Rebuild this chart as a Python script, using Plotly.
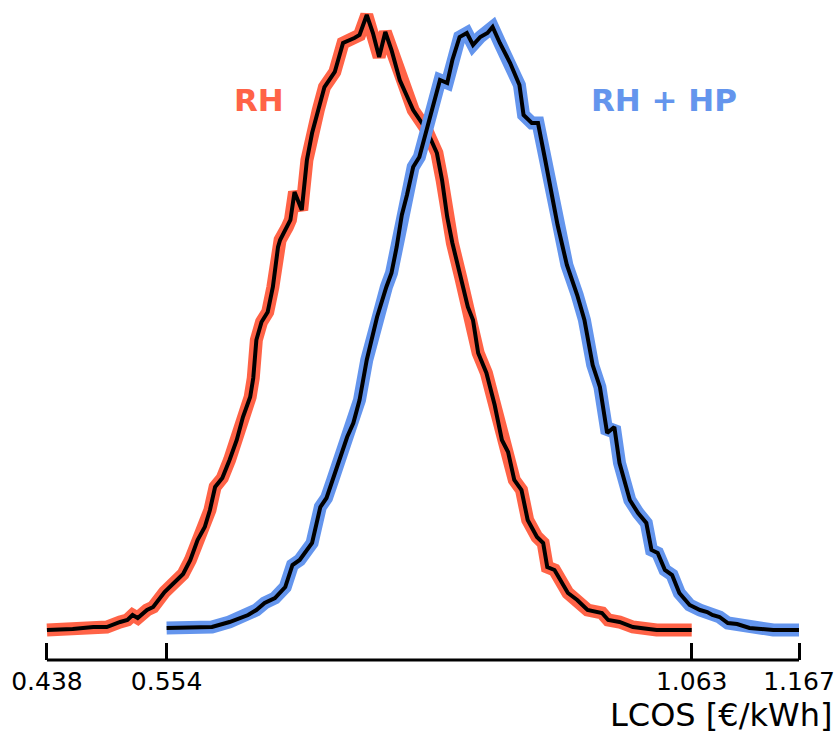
import plotly.graph_objects as go

# LCOS distributions (histogram outlines)
rh_x = [0.438, 0.463, 0.483, 0.496, 0.509, 0.516, 0.521, 0.526, 0.535, 0.541,
        0.552, 0.564, 0.570, 0.577, 0.584, 0.591, 0.596, 0.601, 0.608, 0.615,
        0.622, 0.628, 0.635, 0.638, 0.641, 0.646, 0.652, 0.657, 0.662, 0.664,
        0.671, 0.674, 0.678, 0.685, 0.690, 0.695, 0.701, 0.707, 0.717, 0.725,
        0.736, 0.741, 0.748, 0.754, 0.760, 0.766, 0.772, 0.780, 0.793, 0.806,
        0.816, 0.821, 0.826, 0.831, 0.839, 0.846, 0.851, 0.856, 0.864, 0.872,
        0.879, 0.885, 0.891, 0.898, 0.904, 0.913, 0.919, 0.923, 0.930, 0.943,
        0.952, 0.962, 0.976, 0.982, 0.993, 1.006, 1.029, 1.063]
rh_y = [2, 3, 5, 5, 10, 12, 17, 14, 22, 25,
        40, 52, 58, 72, 92, 105, 122, 145, 154, 172,
        192, 215, 235, 254, 292, 310, 320, 345, 385, 392,
        405, 412, 440, 422, 472, 499, 522, 545, 560, 589,
        594, 597, 617, 599, 575, 600, 582, 552, 522, 502,
        479, 452, 415, 389, 355, 325, 312, 279, 259, 227,
        192, 180, 152, 142, 112, 95, 89, 65, 62, 39,
        32, 22, 19, 12, 10, 5, 2, 2]

rhhp_x = [0.554, 0.577, 0.598, 0.615, 0.633, 0.641, 0.649, 0.659, 0.669, 0.676,
          0.683, 0.695, 0.703, 0.709, 0.715, 0.722, 0.729, 0.735, 0.741, 0.748,
          0.758, 0.767, 0.772, 0.777, 0.782, 0.787, 0.793, 0.799, 0.806, 0.812,
          0.819, 0.826, 0.831, 0.838, 0.845, 0.851, 0.858, 0.865, 0.870, 0.877,
          0.887, 0.896, 0.900, 0.908, 0.914, 0.921, 0.928, 0.933, 0.942, 0.952,
          0.959, 0.967, 0.974, 0.981, 0.988, 0.993, 1.003, 1.011, 1.019, 1.024,
          1.030, 1.037, 1.044, 1.051, 1.061, 1.071, 1.078, 1.083, 1.090, 1.098,
          1.107, 1.119, 1.142, 1.167]
rhhp_y = [4, 4, 5, 10, 17, 22, 29, 34, 45, 67,
          72, 89, 125, 134, 152, 175, 195, 209, 232, 272,
          315, 345, 359, 385, 417, 437, 465, 475, 502, 522,
          552, 549, 572, 595, 599, 587, 595, 599, 605, 589,
          569, 547, 517, 509, 509, 472, 432, 407, 367, 337,
          312, 267, 245, 199, 205, 169, 132, 119, 109, 82,
          79, 62, 57, 39, 27, 22, 20, 17, 15, 9,
          8, 4, 2, 2]

tick_vals = [0.438, 0.554, 1.063, 1.167]
tick_text = ["0.438", "0.554", "1.063", "1.167"]

red = "#FF6347"
blue = "#6495ED"

fig = go.Figure()
for xs, ys, col in [(rh_x, rh_y, red), (rhhp_x, rhhp_y, blue)]:
    fig.add_trace(go.Scatter(x=xs, y=ys, mode="lines", line=dict(color=col, width=13),
                             hoverinfo="skip", showlegend=False))
    fig.add_trace(go.Scatter(x=xs, y=ys, mode="lines", line=dict(color="black", width=4),
                             hoverinfo="skip", showlegend=False))

# axis spine only between first and last tick
fig.add_shape(type="line", xref="x", yref="paper", x0=tick_vals[0], x1=tick_vals[-1],
              y0=0, y1=0, line=dict(color="black", width=3))

fig.add_annotation(x=0.644, y=532, xref="x", yref="y", text="<b>RH</b>", showarrow=False,
                   font=dict(family="DejaVu Sans", size=31, color=red))
fig.add_annotation(x=1.036, y=532, xref="x", yref="y", text="<b>RH + HP</b>", showarrow=False,
                   font=dict(family="DejaVu Sans", size=31, color=blue))
fig.add_annotation(x=1, y=0, xref="paper", yref="paper", xanchor="right", yanchor="top",
                   xshift=-4, yshift=-34, text="LCOS [€/kWh]", showarrow=False,
                   font=dict(family="DejaVu Sans", size=32, color="black"))

fig.update_layout(
    width=838, height=735,
    margin=dict(l=0, r=0, t=0, b=75),
    plot_bgcolor="white", paper_bgcolor="white",
    xaxis=dict(range=[0.3925, 1.2048], tickvals=tick_vals, ticktext=tick_text,
               ticks="inside", ticklen=17, tickwidth=3, tickcolor="black",
               ticklabelstandoff=4,
               showline=False, showgrid=False, zeroline=False,
               tickfont=dict(family="DejaVu Sans", size=25, color="black")),
    yaxis=dict(range=[-28, 632], visible=False, showgrid=False, zeroline=False),
)

fig.write_html("out.html", config={"displayModeBar": False},
               post_script="document.body.style.margin='0px';")
